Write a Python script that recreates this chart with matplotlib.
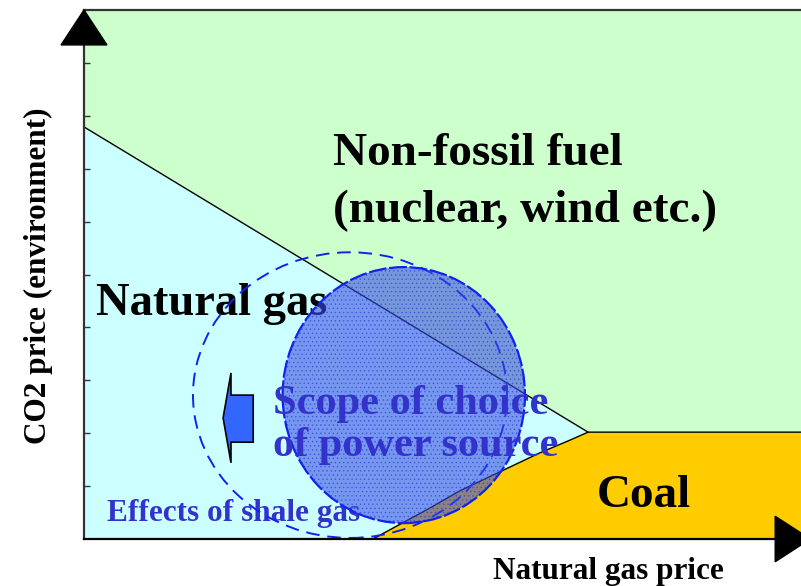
import matplotlib
matplotlib.use('Agg')
import matplotlib.pyplot as plt
from matplotlib.patches import Polygon, Ellipse

# conceptual diagram, axes run 0..10 on both sides
# boundary between gas and non-fossil (straight line), then flat coal top
gas_line_x = [0.0, 7.03, 10.0]
gas_line_y = [7.79, 2.02, 2.02]
# gas / coal boundary curve
coal_curve_x = [4.03, 4.41, 4.83, 5.24, 5.80, 6.36, 6.78, 7.03]
coal_curve_y = [0.00, 0.28, 0.59, 0.91, 1.27, 1.63, 1.87, 2.02]
# shale gas range (dashed) and scope of choice (filled)
shale_centre = (3.71, 2.72)
shale_size = (4.38, 5.40)
scope_centre = (4.46, 2.72)
scope_size = (3.38, 4.84)
# left pointing block arrow
arrow_x = [1.94, 2.05, 2.05, 2.36, 2.36, 2.05, 2.05]
arrow_y = [2.29, 3.14, 2.72, 2.72, 1.83, 1.83, 1.44]
yticks = [1, 2, 3, 4, 5, 6, 7, 8, 9]

W, H = 801, 586
fig = plt.figure(figsize=(W / 100, H / 100), dpi=100)
ax = fig.add_axes([84 / W, (H - 539) / H, (W - 84) / W, 529 / H])
ax.set_xlim(0, 10)
ax.set_ylim(0, 10)
ax.set_facecolor('#CCFFCC')

gas_poly = list(zip([0.0, 0.0, 7.03], [0.0, 7.79, 2.02])) + \
    list(zip(coal_curve_x[::-1], coal_curve_y[::-1]))
ax.add_patch(Polygon(gas_poly, closed=True, fc='#CCFFFF', ec='none', zorder=1))
coal_poly = list(zip(coal_curve_x, coal_curve_y)) + [(10, 2.02), (10, 0)]
ax.add_patch(Polygon(coal_poly, closed=True, fc='#FFCC00', ec='none', zorder=1))

ax.plot(gas_line_x, gas_line_y, color='black', lw=1.0, zorder=2)
ax.plot(coal_curve_x, coal_curve_y, color='black', lw=1.0, zorder=2)

ax.spines['right'].set_visible(False)
ax.spines['left'].set_color('#333333')
ax.spines['top'].set_color('#333333')
ax.spines['bottom'].set_color('black')
for s in ['left', 'top', 'bottom']:
    ax.spines[s].set_linewidth(1.6)
    ax.spines[s].set_zorder(6)
ax.set_xticks([])
ax.set_yticks(yticks)
ax.set_yticklabels([])
ax.tick_params(axis='y', direction='in', length=4, width=1, color='#333333')

# axis arrow heads
ax.add_patch(Polygon([(0, 10), (-0.32, 9.34), (0.32, 9.34)], closed=True,
                     fc='black', ec='black', clip_on=False, zorder=7))
ax.add_patch(Polygon([(10.13, 0.0), (9.64, 0.43), (9.64, -0.43)], closed=True,
                     fc='black', ec='black', clip_on=False, zorder=7))

serif = 'Liberation Serif'


def atext(x, y, s, size, color='black', z=3):
    # position given in figure pixels, drawn inside the axes layer
    ax.text(x / W, 1 - y / H, s, transform=fig.transFigure, fontsize=size,
            color=color, family=serif, fontweight='bold', ha='left',
            va='center', zorder=z, clip_on=False)


atext(333, 154, 'Non-fossil fuel', 34)
atext(333, 211, '(nuclear, wind etc.)', 34)
atext(96, 304, 'Natural gas', 33.5)
atext(597, 496, 'Coal', 34)
atext(107, 513, 'Effects of shale gas', 22.5, color='#3333CC')
fig.text(493 / W, 1 - 572 / H, 'Natural gas price', fontsize=22.5,
         family=serif, fontweight='bold', ha='left', va='center')
fig.text(38 / W, 1 - 276 / H, 'CO2 price (environment)', fontsize=22.5,
         family=serif, fontweight='bold', rotation=90, ha='center', va='center')

plt.rcParams['hatch.linewidth'] = 0.6
ax.add_patch(Ellipse(shale_centre, shale_size[0], shale_size[1], fill=False,
                     ec='#1122EE', lw=1.4, ls=(0, (7, 4)), zorder=4))
ax.add_patch(Ellipse(scope_centre, scope_size[0], scope_size[1],
                     fc=(0.22, 0.30, 0.90, 0.58), ec=(0.15, 0.2, 0.8, 0.5),
                     hatch='....', lw=0, zorder=4))
ax.add_patch(Ellipse(scope_centre, scope_size[0], scope_size[1], fill=False,
                     ec='#1122EE', lw=1.6, ls=(0, (8, 1.2)), zorder=4))
ax.add_patch(Polygon(list(zip(arrow_x, arrow_y)), closed=True, fc='#3366FF',
                     ec='black', lw=1.2, zorder=4))

atext(273, 404, 'Scope of choice', 30.5, color='#3333CC', z=8)
atext(273, 446, 'of power source', 30.5, color='#3333CC', z=8)

fig.savefig('out.png', dpi=100)
